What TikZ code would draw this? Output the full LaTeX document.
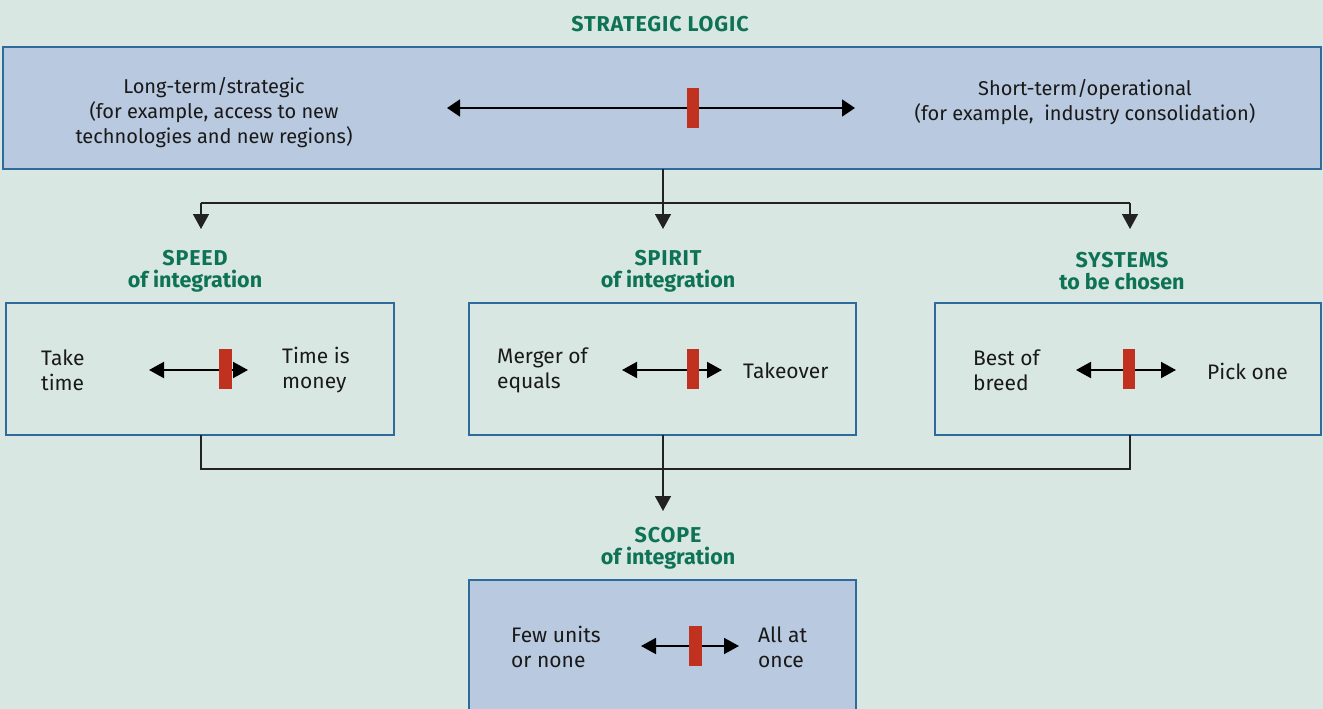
\documentclass[tikz,border=0pt]{standalone}
\usepackage{fontspec}
\setmainfont{Fira Sans}
\usetikzlibrary{arrows.meta}
\definecolor{bgc}{HTML}{D9E7E2}
\definecolor{boxfill}{HTML}{B9C9DF}
\definecolor{boxline}{HTML}{2F6B9A}
\definecolor{headc}{HTML}{0E7355}
\definecolor{barred}{HTML}{C0311F}
\definecolor{conn}{HTML}{222222}
\newcommand{\capsline}[1]{{\addfontfeature{LetterSpace=4}#1}}
\tikzset{
  panel/.style={draw=boxline, line width=1.2pt, rectangle, inner sep=0pt, outer sep=0pt},
  bluepanel/.style={panel, fill=boxfill},
  head/.style={text=headc, font=\fontsize{21.5}{22}\selectfont\bfseries, align=center, inner sep=0pt},
  body/.style={font=\fontsize{21}{25}\selectfont, text=black!90, inner sep=0pt},
  topbody/.style={font=\fontsize{20}{25}\selectfont, text=black!90, inner sep=0pt},
  slider/.style={draw=black, line width=2pt, {Triangle[length=15pt,width=16pt]}-{Triangle[length=15pt,width=16pt]}},
  bigslider/.style={draw=black, line width=1.6pt, {Triangle[length=13pt,width=17pt]}-{Triangle[length=13pt,width=17pt]}},
  redbar/.style={fill=barred, draw=none, rectangle, inner sep=0pt, minimum width=12.5pt, minimum height=40pt},
  link/.style={draw=conn, line width=1.5pt},
  linkarrow/.style={link, -{Triangle[length=15pt,width=16pt]}}
}
\begin{document}
\begin{tikzpicture}[x=1pt,y=-1pt]
\useasboundingbox (0,0) rectangle (1323,709);
\clip (0,0) rectangle (1323,709);
\fill[bgc] (0,0) rectangle (1323,709);

% top
\node[head] (title) at (660,24) {\capsline{STRATEGIC LOGIC}};
\node[bluepanel, minimum width=1318pt, minimum height=122pt] (top) at (662,108) {};
\node[topbody, align=center] (topL) at (214,113) {Long-term/strategic\\(for example, access to new\\technologies and new regions)};
\node[topbody, align=center] (topR) at (1085,102) {Short-term/operational\\(for example,\ \ industry consolidation)};
\coordinate (tA) at (447,108);
\coordinate (tB) at (855,108);
\draw[bigslider] (tA) -- (tB);
\node[redbar, minimum height=40pt] (tbar) at (693,108) {};

% branching
\coordinate (split) at (663,203);
\coordinate (sL) at (201,203);
\coordinate (sR) at (1130,203);
\coordinate (eL) at (201,229);
\coordinate (eM) at (663,229);
\coordinate (eR) at (1130,229);
\draw[link] (top.south -| split) -- (split);
\draw[link] (sL) -- (sR);
\draw[linkarrow] (sL) -- (eL);
\draw[linkarrow] (split) -- (eM);
\draw[linkarrow] (sR) -- (eR);

% headings
\node[head] (hSpeed) at (195,271) {\capsline{SPEED}\\of integration};
\node[head] (hSpirit) at (668,271) {\capsline{SPIRIT}\\of integration};
\node[head] (hSys) at (1122,271) {\capsline{SYSTEMS}\\to be chosen};

% middle boxes
\node[panel, minimum width=388pt, minimum height=132pt] (speed) at (200,369) {};
\node[panel, minimum width=387pt, minimum height=132pt] (spirit) at (662.5,369) {};
\node[panel, minimum width=386pt, minimum height=132pt] (sys) at (1128,369) {};

% speed contents
\node[body, align=left, anchor=west] (spL) at (41,370) {Take\\time};
\node[body, align=left, anchor=west] (spR) at (282,370) {Time is\\money};
\coordinate (spA) at (149,370);
\coordinate (spB) at (248,370);
\draw[slider] (spA) -- (spB);
\node[redbar] (spbar) at (225.5,369) {};

% spirit contents
\node[body, align=left, anchor=west] (siL) at (497,370) {Merger of\\equals};
\node[body, align=left, anchor=west] (siR) at (743,371) {Takeover};
\coordinate (siA) at (622,370);
\coordinate (siB) at (722,370);
\draw[slider] (siA) -- (siB);
\node[redbar] (sibar) at (693,369) {};

% systems contents
\node[body, align=left, anchor=west] (syL) at (973,370) {Best of\\breed};
\node[body, align=left, anchor=west] (syR) at (1207,371) {Pick one};
\coordinate (syA) at (1076,370);
\coordinate (syB) at (1176,370);
\draw[slider] (syA) -- (syB);
\node[redbar] (sybar) at (1129,369) {};

% merging
\coordinate (mL) at (201,469);
\coordinate (mR) at (1130,469);
\coordinate (mEnd) at (663,511);
\draw[link] (speed.south -| mL) -- (mL) -- (mR) -- (sys.south -| mR);
\draw[linkarrow] (spirit.south -| mEnd) -- (mEnd);

% scope
\node[head] (hScope) at (668,548) {\capsline{SCOPE}\\of integration};
\node[bluepanel, minimum width=387pt, minimum height=150pt] (scope) at (662.5,655) {};
\node[body, align=left, anchor=west] (scL) at (511,647) {Few units\\or none};
\node[body, align=left, anchor=west] (scR) at (758,647) {All at\\once};
\coordinate (scA) at (641,646);
\coordinate (scB) at (739,646);
\draw[slider, line width=1.8pt] (scA) -- (scB);
\node[redbar] (scbar) at (695.5,646) {};
\end{tikzpicture}
\end{document}
